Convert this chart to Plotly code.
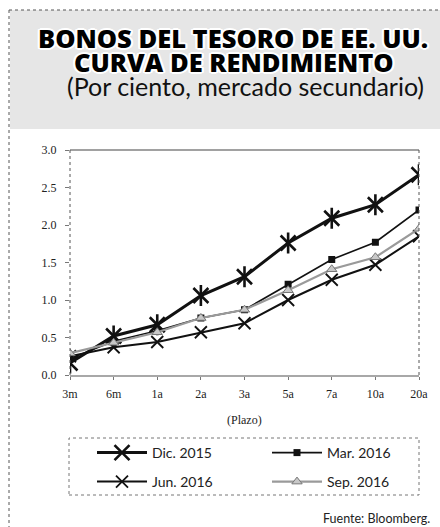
import plotly.graph_objects as go

# Yield curve of U.S. Treasury bonds (percent, secondary market)
plazos = ["3m", "6m", "1a", "2a", "3a", "5a", "7a", "10a", "20a"]
dic_2015 = [0.16, 0.52, 0.67, 1.06, 1.31, 1.76, 2.09, 2.27, 2.67]
mar_2016 = [0.22, 0.45, 0.59, 0.76, 0.87, 1.21, 1.54, 1.77, 2.20]
jun_2016 = [0.25, 0.37, 0.44, 0.57, 0.69, 1.00, 1.27, 1.47, 1.85]
sep_2016 = [0.29, 0.43, 0.57, 0.76, 0.87, 1.13, 1.41, 1.57, 1.95]

series_names = ["Dic. 2015", "Mar. 2016", "Jun. 2016", "Sep. 2016"]
y_ticks = [0.0, 0.5, 1.0, 1.5, 2.0, 2.5, 3.0]

W, H = 440, 527
L, R, T, B = 70, 21, 150, 152

fig = go.Figure()

# Dic. 2015: thick line with a six-armed star (an "x" plus a vertical bar)
fig.add_trace(go.Scatter(
    x=plazos, y=dic_2015, name=series_names[0], mode="lines+markers",
    line=dict(color="#111111", width=3),
    marker=dict(symbol="x-thin-open", size=15, color="#111111",
                line=dict(color="#111111", width=2.6)),
    legend="legend",
))
fig.add_trace(go.Scatter(
    x=plazos, y=dic_2015, name=series_names[0], mode="markers", showlegend=False,
    marker=dict(symbol="line-ns-open", size=15, color="#111111",
                line=dict(color="#111111", width=2.6)),
    hoverinfo="skip",
))
fig.add_trace(go.Scatter(
    x=plazos, y=mar_2016, name=series_names[1], mode="lines+markers",
    line=dict(color="#111111", width=1.6),
    marker=dict(symbol="square", size=7, color="#111111"),
    legend="legend2",
))
fig.add_trace(go.Scatter(
    x=plazos, y=jun_2016, name=series_names[2], mode="lines+markers",
    line=dict(color="#111111", width=2),
    marker=dict(symbol="x-thin-open", size=12, color="#111111",
                line=dict(color="#111111", width=1.8)),
    legend="legend3",
))
fig.add_trace(go.Scatter(
    x=plazos, y=sep_2016, name=series_names[3], mode="lines+markers",
    line=dict(color="#9a9a9a", width=2.2),
    marker=dict(symbol="triangle-up", size=9, color="#c8c8c8",
                line=dict(color="#777777", width=1)),
    legend="legend4",
))

def px_x(p):
    return (p - L) / (W - L - R)

def px_y(p):
    return 1 - (p - T) / (H - T - B)

shapes = [
    # grey header band
    dict(type="rect", xref="paper", yref="paper",
         x0=px_x(10), x1=px_x(440), y0=px_y(129), y1=px_y(10),
         fillcolor="#e6e6e6", line=dict(width=0), layer="below"),
    # outer dotted frame (top and left)
    dict(type="line", xref="paper", yref="paper",
         x0=px_x(9), x1=px_x(440), y0=px_y(10), y1=px_y(10),
         line=dict(color="#555555", width=1, dash="dot")),
    dict(type="line", xref="paper", yref="paper",
         x0=px_x(9), x1=px_x(9), y0=px_y(10), y1=px_y(527),
         line=dict(color="#555555", width=1, dash="dot")),
    # plot frame: solid top, dotted sides
    dict(type="line", xref="paper", yref="paper", x0=0, x1=1, y0=1, y1=1,
         line=dict(color="#444444", width=1.2)),
    dict(type="line", xref="paper", yref="paper", x0=0, x1=0, y0=0, y1=1,
         line=dict(color="#555555", width=1, dash="dot")),
    dict(type="line", xref="paper", yref="paper", x0=1, x1=1, y0=0, y1=1,
         line=dict(color="#555555", width=1, dash="dot")),
    # legend box
    dict(type="rect", xref="paper", yref="paper",
         x0=px_x(69), x1=px_x(419), y0=px_y(495), y1=px_y(438),
         line=dict(color="#777777", width=1, dash="dot"), fillcolor="rgba(0,0,0,0)"),
]

halo = ", ".join(f"{dx}px {dy}px 0 #ffffff" for dx, dy in
                 [(2, 0), (-2, 0), (0, 2), (0, -2), (1, 1), (-1, -1), (1, -1), (-1, 1),
                  (2, 1), (-2, 1), (2, -1), (-2, -1)])

annotations = [
    dict(text="BONOS DEL TESORO DE EE. UU.", xref="paper", yref="paper",
         x=px_x(233), y=px_y(38), xanchor="center", yanchor="middle", showarrow=False,
         font=dict(family="Open Sans", size=25.5, color="#000000", weight=800, shadow=halo)),
    dict(text="CURVA DE RENDIMIENTO", xref="paper", yref="paper",
         x=px_x(234), y=px_y(62), xanchor="center", yanchor="middle", showarrow=False,
         font=dict(family="Open Sans", size=25.5, color="#000000", weight=800, shadow=halo)),
    dict(text="(Por ciento, mercado secundario)", xref="paper", yref="paper",
         x=px_x(245), y=px_y(86), xanchor="center", yanchor="middle", showarrow=False,
         font=dict(family="Lato", size=25, color="#111111")),
    dict(text="(Plazo)", xref="paper", yref="paper",
         x=px_x(244), y=px_y(420), xanchor="center", yanchor="middle", showarrow=False,
         font=dict(family="Liberation Serif", size=12, color="#222222")),
    dict(text="Fuente: Bloomberg.", xref="paper", yref="paper",
         x=px_x(432), y=px_y(518), xanchor="right", yanchor="middle", showarrow=False,
         font=dict(family="Lato", size=12.5, color="#222222")),
]

legend_common = dict(
    orientation="h", xref="paper", yref="paper", xanchor="left", yanchor="middle",
    bgcolor="rgba(0,0,0,0)", borderwidth=0,
    font=dict(family="Lato", size=14, color="#222222"),
    itemwidth=50,
)

fig.update_layout(
    width=W, height=H,
    margin=dict(l=L, r=R, t=T, b=B),
    paper_bgcolor="#ffffff", plot_bgcolor="#ffffff",
    showlegend=True,
    legend=dict(x=px_x(92), y=px_y(453), **legend_common),
    legend2=dict(x=px_x(267), y=px_y(453), **legend_common),
    legend3=dict(x=px_x(92), y=px_y(482), **legend_common),
    legend4=dict(x=px_x(267), y=px_y(482), **legend_common),
    shapes=shapes,
    annotations=annotations,
    xaxis=dict(
        type="category", range=[0, len(plazos) - 1],
        showgrid=False, zeroline=False,
        showline=True, linecolor="#a8a8a8", linewidth=2,
        ticks="outside", ticklen=3, tickcolor="#777777",
        ticklabelstandoff=4,
        tickfont=dict(family="Liberation Serif", size=12, color="#222222"),
    ),
    yaxis=dict(
        range=[0, 3], tickvals=y_ticks, ticktext=[f"{v:.1f}" for v in y_ticks],
        showgrid=False, zeroline=False, showline=False,
        ticks="outside", ticklen=4, tickcolor="#777777",
        ticklabelstandoff=6,
        tickfont=dict(family="Liberation Serif", size=12, color="#222222"),
    ),
)

fig.write_html("out.html")
